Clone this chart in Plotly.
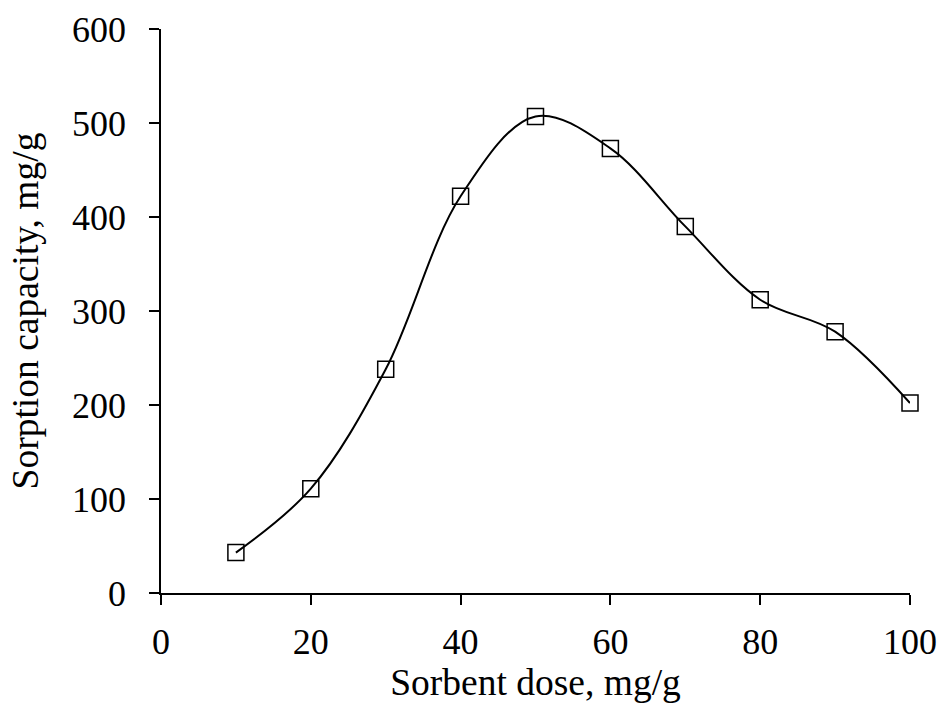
import plotly.graph_objects as go

# Sorbent dose vs sorption capacity
dose = [10, 20, 30, 40, 50, 60, 70, 80, 90, 100]
capacity = [43, 111, 238, 422, 507, 473, 390, 312, 278, 202]

fig = go.Figure(go.Scatter(
    x=dose,
    y=capacity,
    mode='lines+markers',
    line=dict(shape='spline', smoothing=1, color='black', width=2),
    marker=dict(symbol='square-open', size=16, color='black', line=dict(width=1.5)),
    showlegend=False,
    cliponaxis=False,
))

tick_font = dict(family='Liberation Serif, Times New Roman, serif', size=36, color='black')
title_font = dict(family='Liberation Serif, Times New Roman, serif', size=37.5, color='black')

fig.update_layout(
    width=941,
    height=706,
    plot_bgcolor='white',
    paper_bgcolor='white',
    margin=dict(l=161, r=31, t=29, b=113),
    font=tick_font,
    xaxis=dict(
        range=[0, 100],
        tickvals=[0, 20, 40, 60, 80, 100],
        ticks='outside',
        ticklen=10,
        tickwidth=1.5,
        tickcolor='black',
        ticklabelstandoff=6,
        showline=True,
        linecolor='black',
        linewidth=1.5,
        showgrid=False,
        zeroline=False,
        automargin=False,
        tickfont=tick_font,
        title=dict(text='Sorbent dose, mg/g', font=title_font, standoff=4),
    ),
    yaxis=dict(
        range=[0, 600],
        tickvals=[0, 100, 200, 300, 400, 500, 600],
        ticks='outside',
        ticklen=10,
        tickwidth=1.5,
        tickcolor='black',
        ticklabelstandoff=16,
        showline=True,
        linecolor='black',
        linewidth=1.5,
        showgrid=False,
        zeroline=False,
        automargin=False,
        tickfont=tick_font,
        title=dict(text='Sorption capacity, mg/g', font=title_font, standoff=22),
    ),
)

# drop the page's default body margin so the figure sits at the window origin
fig.write_html('out.html', config={'displayModeBar': False},
               post_script="document.body.style.margin='0';")
